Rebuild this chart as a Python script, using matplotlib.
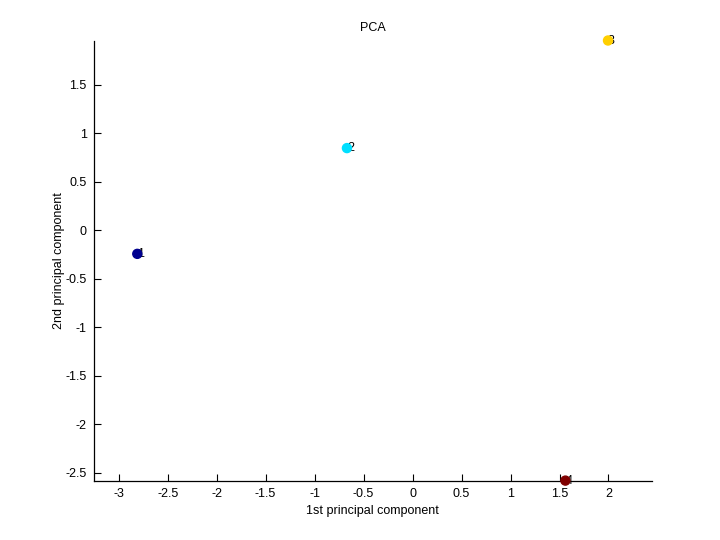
import matplotlib
matplotlib.use("Agg")
import matplotlib.pyplot as plt

labels = ["1", "2", "3", "4"]
pc1 = [-2.81, -0.67, 1.995, 1.56]
pc2 = [-0.245, 0.845, 1.954, -2.582]
colors = [(0, 0, 0.5625), (0, 0.875, 1), (1, 0.8125, 0), (0.5, 0, 0)]
xticks = [-3, -2.5, -2, -1.5, -1, -0.5, 0, 0.5, 1, 1.5, 2]
yticks = [-2.5, -2, -1.5, -1, -0.5, 0, 0.5, 1, 1.5]

plt.rcParams['font.family'] = ['Liberation Sans', 'DejaVu Sans']
plt.rcParams['font.size'] = 9

fig = plt.figure(figsize=(7.2, 5.4), dpi=100)
ax = fig.add_axes([0.13, 0.11, 0.775, 0.815])

for lab, x, y in zip(labels, pc1, pc2):
    ax.text(x, y, lab, ha='left', va='center', fontsize=9, zorder=2)
ax.scatter(pc1, pc2, c=colors, s=42, edgecolors=colors, zorder=3, clip_on=False)

ax.set_xlim(-3.256, 2.44)
ax.set_ylim(-2.582, 1.954)
ax.set_xticks(xticks)
ax.set_xticklabels([f"{t:g}" for t in xticks])
ax.set_yticks(yticks)
ax.set_yticklabels([f"{t:g}" for t in yticks])
ax.tick_params(direction='in', length=5, width=0.8, labelsize=9)
ax.tick_params(axis='x', pad=5.5)
ax.tick_params(axis='y', pad=5)
for s in ['top', 'right']:
    ax.spines[s].set_visible(False)
for s in ['left', 'bottom']:
    ax.spines[s].set_linewidth(0.9)

ax.set_title("PCA", fontsize=9, pad=7)
ax.set_xlabel("1st principal component", fontsize=9, labelpad=3.5)
ax.set_ylabel("2nd principal component", fontsize=9, labelpad=0)

fig.savefig("out.png", dpi=100)
